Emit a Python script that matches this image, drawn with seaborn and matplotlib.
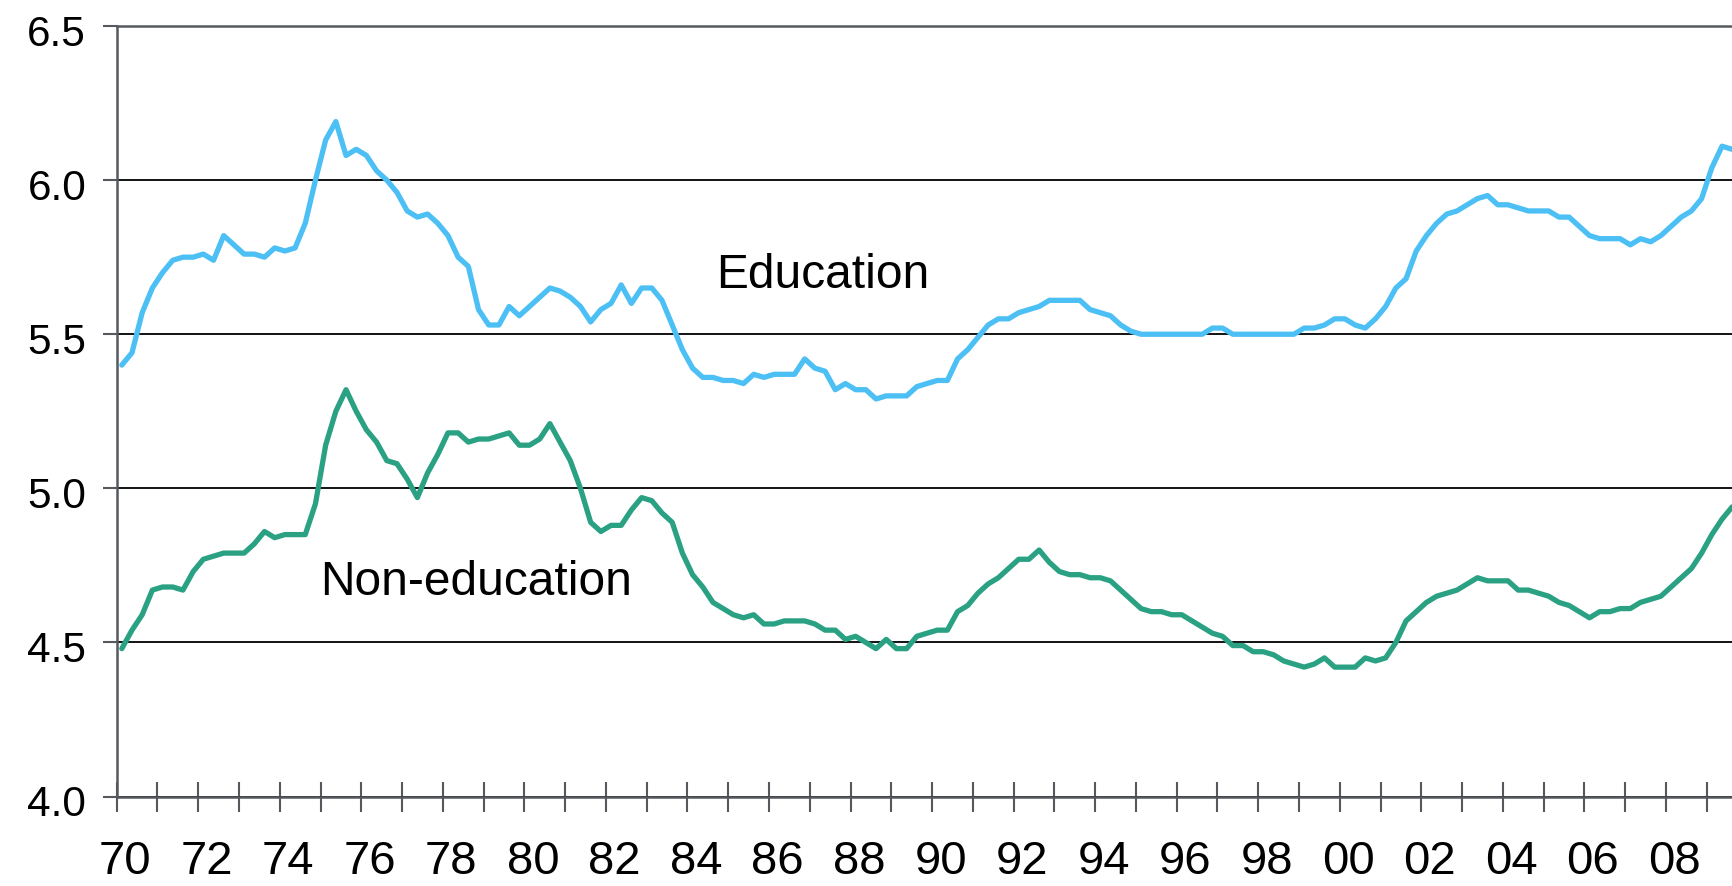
import numpy as np
import pandas as pd
import matplotlib
matplotlib.use("Agg")
import matplotlib.pyplot as plt
import seaborn as sns
from matplotlib.transforms import ScaledTranslation

# Quarterly values, 1970Q1 .. 2009Q3
education = [
    5.40, 5.44, 5.57, 5.65, 5.70, 5.74, 5.75, 5.75, 5.76, 5.74, 5.82, 5.79, 5.76, 5.76, 5.75, 5.78, 5.77, 5.78, 5.86, 6.00,
    6.13, 6.19, 6.08, 6.10, 6.08, 6.03, 6.00, 5.96, 5.90, 5.88, 5.89, 5.86, 5.82, 5.75, 5.72, 5.58, 5.53, 5.53, 5.59, 5.56,
    5.59, 5.62, 5.65, 5.64, 5.62, 5.59, 5.54, 5.58, 5.60, 5.66, 5.60, 5.65, 5.65, 5.61, 5.53, 5.45, 5.39, 5.36, 5.36, 5.35,
    5.35, 5.34, 5.37, 5.36, 5.37, 5.37, 5.37, 5.42, 5.39, 5.38, 5.32, 5.34, 5.32, 5.32, 5.29, 5.30, 5.30, 5.30, 5.33, 5.34,
    5.35, 5.35, 5.42, 5.45, 5.49, 5.53, 5.55, 5.55, 5.57, 5.58, 5.59, 5.61, 5.61, 5.61, 5.61, 5.58, 5.57, 5.56, 5.53, 5.51,
    5.50, 5.50, 5.50, 5.50, 5.50, 5.50, 5.50, 5.52, 5.52, 5.50, 5.50, 5.50, 5.50, 5.50, 5.50, 5.50, 5.52, 5.52, 5.53, 5.55,
    5.55, 5.53, 5.52, 5.55, 5.59, 5.65, 5.68, 5.77, 5.82, 5.86, 5.89, 5.90, 5.92, 5.94, 5.95, 5.92, 5.92, 5.91, 5.90, 5.90,
    5.90, 5.88, 5.88, 5.85, 5.82, 5.81, 5.81, 5.81, 5.79, 5.81, 5.80, 5.82, 5.85, 5.88, 5.90, 5.94, 6.04, 6.11, 6.10,
]
non_education = [
    4.48, 4.54, 4.59, 4.67, 4.68, 4.68, 4.67, 4.73, 4.77, 4.78, 4.79, 4.79, 4.79, 4.82, 4.86, 4.84, 4.85, 4.85, 4.85, 4.95,
    5.14, 5.25, 5.32, 5.25, 5.19, 5.15, 5.09, 5.08, 5.03, 4.97, 5.05, 5.11, 5.18, 5.18, 5.15, 5.16, 5.16, 5.17, 5.18, 5.14,
    5.14, 5.16, 5.21, 5.15, 5.09, 5.00, 4.89, 4.86, 4.88, 4.88, 4.93, 4.97, 4.96, 4.92, 4.89, 4.79, 4.72, 4.68, 4.63, 4.61,
    4.59, 4.58, 4.59, 4.56, 4.56, 4.57, 4.57, 4.57, 4.56, 4.54, 4.54, 4.51, 4.52, 4.50, 4.48, 4.51, 4.48, 4.48, 4.52, 4.53,
    4.54, 4.54, 4.60, 4.62, 4.66, 4.69, 4.71, 4.74, 4.77, 4.77, 4.80, 4.76, 4.73, 4.72, 4.72, 4.71, 4.71, 4.70, 4.67, 4.64,
    4.61, 4.60, 4.60, 4.59, 4.59, 4.57, 4.55, 4.53, 4.52, 4.49, 4.49, 4.47, 4.47, 4.46, 4.44, 4.43, 4.42, 4.43, 4.45, 4.42,
    4.42, 4.42, 4.45, 4.44, 4.45, 4.50, 4.57, 4.60, 4.63, 4.65, 4.66, 4.67, 4.69, 4.71, 4.70, 4.70, 4.70, 4.67, 4.67, 4.66,
    4.65, 4.63, 4.62, 4.60, 4.58, 4.60, 4.60, 4.61, 4.61, 4.63, 4.64, 4.65, 4.68, 4.71, 4.74, 4.79, 4.85, 4.90, 4.94,
]
quarter_mid = 1970 + (np.arange(len(education)) + 0.5) / 4.0

series_names = ["Education", "Non-education"]
series_colors = {"Education": "#4cbff5", "Non-education": "#2aa183"}

year_ticks = list(range(1970, 2010))
year_labels = [f"{y % 100:02d}" if y % 2 == 0 else "" for y in year_ticks]
y_ticks = [4.0, 4.5, 5.0, 5.5, 6.0, 6.5]
y_labels = ["4.0", "4.5", "5.0", "5.5", "6.0", "6.5"]

df = pd.DataFrame({"t": quarter_mid, "Education": education, "Non-education": non_education})
long = df.melt(id_vars="t", value_vars=series_names, var_name="series", value_name="value")

sns.set_theme(style="white")
plt.rcParams["font.family"] = ["Liberation Sans", "DejaVu Sans"]

W, H = 1732, 886
fig = plt.figure(figsize=(W / 100, H / 100), dpi=100)
left_px, top_px, bottom_px = 116.7, 26.0, 796.6
ax = fig.add_axes([left_px / W, 1 - bottom_px / H, 1 - left_px / W, (bottom_px - top_px) / H])

sns.lineplot(data=long, x="t", y="value", hue="series", hue_order=series_names,
             palette=series_colors, linewidth=3.8, legend=False, ax=ax, zorder=3)

ax.set_xlim(1970, 2009.62)
ax.set_ylim(4.0, 6.5)
ax.set_xlabel("")
ax.set_ylabel("")

axis_grey = "#55595e"
ax.set_yticks(y_ticks)
ax.set_yticklabels(y_labels)
ax.set_xticks(year_ticks)
ax.set_xticklabels(year_labels)

ax.yaxis.grid(True, color="black", linewidth=1.3)
ax.xaxis.grid(False)
ax.set_axisbelow(True)

for side in ["left", "bottom", "top"]:
    ax.spines[side].set_visible(True)
    ax.spines[side].set_color(axis_grey)
    ax.spines[side].set_linewidth(1.8)
ax.spines["right"].set_visible(False)

ax.tick_params(axis="x", direction="inout", length=21, width=1.5, color=axis_grey,
               pad=21, labelsize=34, labelcolor="black", bottom=True)
ax.tick_params(axis="y", direction="out", length=10, width=1.5, color=axis_grey,
               pad=12, labelsize=30.5, labelcolor="black", left=True)

off_x = ScaledTranslation(8.5 / 100, 0, fig.dpi_scale_trans)
for lab in ax.get_xticklabels():
    lab.set_transform(lab.get_transform() + off_x)
off_y = ScaledTranslation(0, -4 / 100, fig.dpi_scale_trans)
for lab in ax.get_yticklabels():
    lab.set_transform(lab.get_transform() + off_y)

ax.text(1984.70, 5.65, "Education", fontsize=34.5, color="black", ha="left", va="baseline")
ax.text(1974.99, 4.654, "Non-education", fontsize=34.5, color="black", ha="left", va="baseline")

fig.savefig("out.png", dpi=100)
